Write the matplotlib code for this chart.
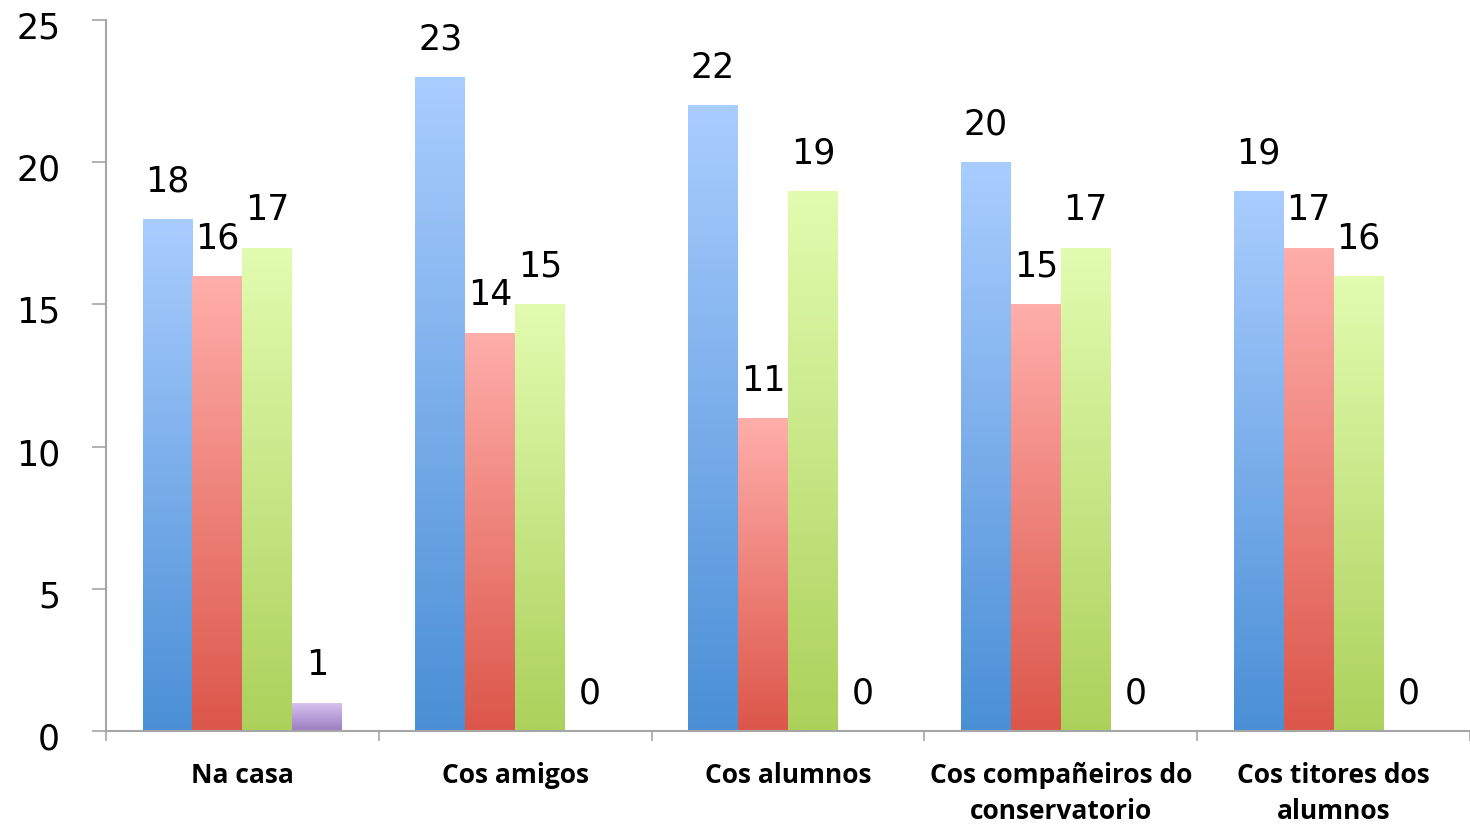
import numpy as np
import matplotlib.pyplot as plt
import matplotlib.transforms as mtransforms
from matplotlib.colors import LinearSegmentedColormap

categories = ["Na casa", "Cos amigos", "Cos alumnos",
              "Cos compañeiros do\nconservatorio", "Cos titores dos\nalumnos"]
serie_a = [18, 23, 22, 20, 19]
serie_b = [16, 14, 11, 15, 17]
serie_c = [17, 15, 19, 17, 16]
serie_d = [1, 0, 0, 0, 0]
series = [serie_a, serie_b, serie_c, serie_d]

# (top, bottom) gradient colours per series
gradients = [("#aacdff", "#4a8fd6"),
             ("#ffaeaa", "#dc564a"),
             ("#e2fcb0", "#acd15b"),
             ("#d8c4f2", "#9a7dc0")]

fig = plt.figure(figsize=(14.7, 8.25), dpi=100)
ax = fig.add_axes([106 / 1470, 94 / 825, 1364 / 1470, 711 / 825])

x = np.arange(len(categories))
w = 0.183
grad = np.linspace(1, 0, 256).reshape(-1, 1)

for j, vals in enumerate(series):
    pos = x + (j - 1.5) * w
    bars = ax.bar(pos, vals, width=w, color="none", edgecolor="none", zorder=2)
    cmap = LinearSegmentedColormap.from_list("g%d" % j, [gradients[j][1], gradients[j][0]])
    for b, v in zip(bars, vals):
        if v > 0:
            im = ax.imshow(grad, cmap=cmap, vmin=0, vmax=1, aspect="auto",
                           extent=[b.get_x(), b.get_x() + w, 0, v], zorder=2,
                           interpolation="bicubic")
            im.set_clip_path(b)
        ax.annotate(str(v), (b.get_x() + w / 2, v), xytext=(0, 27),
                    textcoords="offset points", ha="center", va="center",
                    fontsize=25, family="DejaVu Sans", color="black")

ax.set_xlim(-0.5, len(categories) - 0.5)
ax.set_ylim(0, 25)
ax.set_yticks([0, 5, 10, 15, 20, 25])
ax.set_xticks(x)
ax.set_xticklabels(categories, fontsize=19, fontweight="bold", family="Open Sans",
                   linespacing=1.45)
ax.set_xticks(np.arange(-0.5, len(categories)), minor=True)
ax.tick_params(axis="x", which="major", length=0, pad=22)
ax.tick_params(axis="x", which="minor", length=7, width=1.2, color="#a6a6a6", direction="out")
ax.tick_params(axis="y", length=10, width=1.2, color="#a6a6a6", labelsize=25, pad=23)
shift = mtransforms.ScaledTranslation(0, -5 / 100, fig.dpi_scale_trans)
for lab in ax.get_yticklabels():
    lab.set_family("DejaVu Sans")
    lab.set_transform(lab.get_transform() + shift)

for s in ["top", "right"]:
    ax.spines[s].set_visible(False)
for s in ["left", "bottom"]:
    ax.spines[s].set_color("#a6a6a6")
    ax.spines[s].set_linewidth(1.5)

fig.savefig("out.png", dpi=100)
